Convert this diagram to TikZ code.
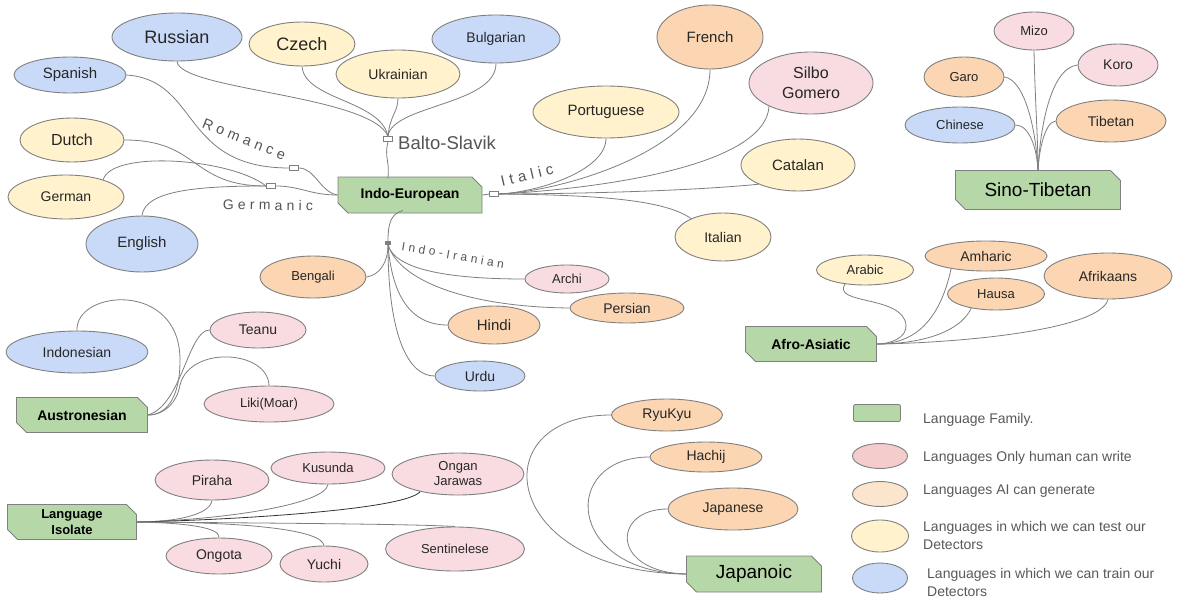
\documentclass[tikz,border=0pt]{standalone}
\usepackage{fontspec}
\setmainfont{Liberation Sans}
\newfontfamily\spaced[LetterSpace=30]{Liberation Sans}
\usetikzlibrary{shapes.geometric,shapes.misc,calc}
\definecolor{famgreen}{HTML}{B6D7A8}
\definecolor{lblue}{HTML}{C9DAF8}
\definecolor{lyellow}{HTML}{FFF2CC}
\definecolor{lorange}{HTML}{FCD6B2}
\definecolor{lpink}{HTML}{F9DCE1}
\definecolor{legpink}{HTML}{F4CCCC}
\definecolor{legorange}{HTML}{FCE5CD}
\definecolor{edgec}{HTML}{7F7F7F}
\definecolor{bord}{HTML}{808080}
\definecolor{lblc}{HTML}{595959}
\definecolor{brc}{HTML}{555555}
\newcommand\lng[8]{\node[lang,fill=#6,minimum width=#4pt,minimum height=#5pt,font=\fontsize{#7}{#7}\selectfont] (#1) at (#2,#3) {#8};}
\tikzset{
  lang/.style={ellipse, draw=bord, line width=0.9pt, inner sep=0pt, align=center, text=black!85},
  fam/.style={chamfered rectangle, chamfered rectangle corners={north east,south west},
    chamfered rectangle xsep=5pt, chamfered rectangle ysep=5pt,
    draw=bord, fill=famgreen, line width=0.9pt, inner sep=0pt, align=center, text=black},
  junc/.style={rectangle, draw=bord, fill=white, line width=0.7pt, minimum width=9pt, minimum height=5pt, inner sep=0pt},
  link/.style={draw=edgec, line width=0.8pt},
  brlbl/.style={text=brc, inner sep=0pt},
  legtxt/.style={text=lblc, anchor=west, inner sep=0pt, align=left, font=\fontsize{14}{18}\selectfont},
}
\begin{document}
\begin{tikzpicture}[x=1pt,y=-1pt]
\fill[white] (0,0) rectangle (1177,602);
\useasboundingbox (0,0) rectangle (1177,602);

% ---------- family nodes
\node[fam, minimum width=144pt, minimum height=36pt, font=\bfseries\fontsize{14}{14}\selectfont] (IE) at (410,195) {Indo-European};
\node[fam, minimum width=165pt, minimum height=39pt, font=\fontsize{19}{19}\selectfont] (ST) at (1038,190) {Sino-Tibetan};
\node[fam, minimum width=131pt, minimum height=35pt, font=\bfseries\fontsize{14}{14}\selectfont] (AA) at (811,344) {Afro-Asiatic};
\node[fam, minimum width=131pt, minimum height=35pt, font=\bfseries\fontsize{14}{14}\selectfont] (AU) at (82,415) {Austronesian};
\node[fam, minimum width=129pt, minimum height=32pt, font=\bfseries\fontsize{13}{13}\selectfont] (LI) at (72,522) {Language\\[3pt]Isolate};
\node[fam, minimum width=135pt, minimum height=36pt, font=\fontsize{19}{19}\selectfont] (JP) at (754,574) {Japanoic};

% ---------- junctions
\node[junc] (BS) at (388,139) {};
\node[junc] (Rom) at (294,168) {};
\node[junc] (Ger) at (271,186) {};
\node[junc] (Ita) at (494,194) {};
\node[junc, minimum width=5pt, minimum height=3pt, fill=bord] (II) at (388,243) {};

% ---------- branch labels
\node[brlbl, anchor=west, font=\fontsize{18.5}{18.5}\selectfont] (bslbl) at (398,143) {Balto-Slavik};
\node[brlbl, rotate=-22, font=\spaced\fontsize{14.5}{14.5}\selectfont] (romlbl) at (244,139) {Romance};
\node[brlbl, rotate=-1, font=\spaced\fontsize{14}{14}\selectfont] (gerlbl) at (268,205) {Germanic};
\node[brlbl, rotate=13, font=\spaced\fontsize{15}{15}\selectfont] (italbl) at (527,175) {Italic};
\node[brlbl, rotate=-10, font=\spaced\fontsize{12}{12}\selectfont] (iilbl) at (453,255) {Indo-Iranian};

% ---------- languages
\lng{Russian}{177}{37}{130}{48}{lblue}{18}{Russian}
\lng{Czech}{302}{44}{106}{44}{lyellow}{18}{Czech}
\lng{Ukrainian}{398}{74}{124}{48}{lyellow}{14}{Ukrainian}
\lng{Bulgarian}{496}{39}{128}{48}{lblue}{14}{Bulgarian}
\lng{Spanish}{70}{75}{112}{36}{lblue}{15}{Spanish}
\lng{Dutch}{72}{140}{104}{44}{lyellow}{16}{Dutch}
\lng{German}{66}{197}{116}{44}{lyellow}{14}{German}
\lng{English}{142}{244}{112}{56}{lblue}{15}{English}
\lng{Portuguese}{606}{112}{146}{52}{lyellow}{15}{Portuguese}
\lng{French}{710}{37}{106}{64}{lorange}{15}{French}
\lng{Silbo}{811}{83}{124}{62}{lpink}{16}{Silbo\\[4pt]Gomero}
\lng{Catalan}{798}{165}{114}{52}{lyellow}{15}{Catalan}
\lng{Italian}{723}{237}{96}{48}{lyellow}{14}{Italian}
\lng{Bengali}{313}{277}{106}{42}{lorange}{13}{Bengali}
\lng{Archi}{567}{279}{84}{28}{lpink}{13}{Archi}
\lng{Persian}{627}{308}{114}{30}{lorange}{14}{Persian}
\lng{Hindi}{494}{325}{92}{38}{lorange}{15}{Hindi}
\lng{Urdu}{480}{376}{90}{30}{lblue}{14}{Urdu}
\lng{Mizo}{1034}{31}{80}{38}{lpink}{13}{Mizo}
\lng{Garo}{964}{77}{80}{40}{lorange}{13}{Garo}
\lng{Koro}{1118}{65}{80}{42}{lpink}{14}{Koro}
\lng{Chinese}{960}{125}{110}{36}{lblue}{13}{Chinese}
\lng{Tibetan}{1111}{121}{110}{42}{lorange}{14}{Tibetan}
\lng{Arabic}{865}{270}{97}{30}{lyellow}{13}{Arabic}
\lng{Amharic}{986}{256}{122}{30}{lorange}{14}{Amharic}
\lng{Hausa}{996}{294}{97}{32}{lorange}{13}{Hausa}
\lng{Afrikaans}{1108}{276}{128}{46}{lorange}{14}{Afrikaans}
\lng{Indonesian}{77}{352}{142}{42}{lblue}{14}{Indonesian}
\lng{Teanu}{258}{330}{96}{36}{lpink}{14}{Teanu}
\lng{Liki}{269}{404}{130}{36}{lpink}{13}{Liki(Moar)}
\lng{Piraha}{212}{480}{114}{40}{lpink}{14}{Piraha}
\lng{Kusunda}{328}{468}{114}{32}{lpink}{13}{Kusunda}
\lng{Ongan}{458}{474}{132}{42}{lpink}{13}{Ongan\\[2pt]Jarawas}
\lng{Ongota}{219}{556}{106}{36}{lpink}{14}{Ongota}
\lng{Yuchi}{324}{564}{88}{36}{lpink}{14}{Yuchi}
\lng{Sentinelese}{455}{549}{139}{44}{lpink}{13}{Sentinelese}
\lng{RyuKyu}{667}{415}{111}{32}{lorange}{14}{RyuKyu}
\lng{Hachij}{706}{457}{112}{30}{lorange}{14}{Hachij}
\lng{Japanese}{733}{509}{130}{42}{lorange}{14}{Japanese}

% ---------- Indo-European connectors
\draw[link] ($(IE.north west)!0.36!(IE.north east)$) .. controls (390,160) and (384,158) .. (BS.south);
\draw[link] (BS.north) .. controls (370,95) and (180,90) .. (Russian.south);
\draw[link] (BS.north) .. controls (380,100) and (305,100) .. (Czech.south);
\draw[link] (BS.north) .. controls (390,115) and (398,112) .. (Ukrainian.south);
\draw[link] (BS.north) .. controls (392,105) and (496,105) .. (Bulgarian.south);

\draw[link] (IE.west) .. controls (320,192) and (315,168) .. (Rom.east);
\draw[link] (Rom.west) .. controls (180,168) and (200,80) .. (Spanish.east);

\draw[link] (IE.west) .. controls (310,195) and (300,186) .. (Ger.east);
\draw[link] (Ger.west) .. controls (190,186) and (200,140) .. (Dutch.east);
\draw[link] (Ger.west) .. controls (230,158) and (112,150) .. (German.25);
\draw[link] (Ger.west) .. controls (200,186) and (145,190) .. (English.north);

\draw[link] (IE.east) -- (Ita.west);
\draw[link] (Ita.east) .. controls (540,192) and (606,170) .. (Portuguese.south);
\draw[link] (Ita.east) .. controls (560,192) and (710,150) .. (French.south);
\draw[link] (Ita.east) .. controls (580,190) and (765,170) .. (Silbo.209);
\draw[link] (Ita.east) .. controls (550,194) and (680,192) .. (Catalan.206);
\draw[link] (Ita.east) .. controls (600,195) and (665,200) .. (Italian.150);

\draw[link] ($(IE.south west)!0.43!(IE.south east)$) .. controls (390,214) and (388,225) .. (II.north);
\draw[link] (II.south) .. controls (388,262) and (380,275) .. (Bengali.east);
\draw[link] (II.south) .. controls (395,270) and (450,279) .. (Archi.west);
\draw[link] (II.south) .. controls (400,282) and (470,307) .. (Persian.west);
\draw[link] (II.south) .. controls (392,295) and (410,325) .. (Hindi.west);
\draw[link] (II.south) .. controls (388,335) and (408,376) .. (Urdu.west);

% ---------- Sino-Tibetan
\draw[link] (Mizo.south) .. controls (1035,100) and (1038,140) .. (ST.north);
\draw[link] (Garo.east) .. controls (1025,80) and (1036,130) .. (ST.north);
\draw[link] (Koro.west) .. controls (1050,68) and (1040,130) .. (ST.north);
\draw[link] (Chinese.east) .. controls (1030,125) and (1037,150) .. (ST.north);
\draw[link] (Tibetan.west) .. controls (1045,122) and (1039,150) .. (ST.north);

% ---------- Afro-Asiatic
\draw[link] (Arabic.215) .. controls (832,305) and (903,295) .. (906,325) .. controls (907,338) and (890,344) .. (AA.east);
\draw[link] (Amharic.200) .. controls (940,320) and (915,344) .. (AA.east);
\draw[link] (Hausa.210) .. controls (958,335) and (915,344) .. (AA.east);
\draw[link] (Afrikaans.south) .. controls (1100,330) and (960,343) .. (AA.east);

% ---------- Austronesian
\draw[link] (Indonesian.north) .. controls (75,290) and (180,280) .. (180,360) .. controls (180,400) and (165,415) .. (AU.east);
\draw[link] (Teanu.west) .. controls (188,330) and (182,405) .. (AU.east);
\draw[link] (Liki.north) .. controls (268,350) and (190,345) .. (180,385) .. controls (177,402) and (165,415) .. (AU.east);

% ---------- Language Isolate
\draw[link] (LI.east) .. controls (175,522) and (210,515) .. (Piraha.south);
\draw[link] (LI.east) .. controls (220,520) and (325,505) .. (Kusunda.south);
\draw[link, draw=black!80] (LI.east) .. controls (230,520) and (405,510) .. (Ongan.205);
\draw[link] (LI.east) .. controls (190,523) and (220,528) .. (Ongota.north);
\draw[link] (LI.east) .. controls (250,522) and (322,530) .. (Yuchi.north);
\draw[link] (LI.east) .. controls (260,523) and (420,524) .. (Sentinelese.north);

% ---------- Japanoic
\draw[link] (RyuKyu.west) .. controls (480,415) and (500,572) .. (JP.west);
\draw[link] (Hachij.west) .. controls (560,457) and (565,572) .. (JP.west);
\draw[link] (Japanese.west) .. controls (612,509) and (610,572) .. (JP.west);

% ---------- legend
\node[rectangle, rounded corners=2pt, draw=bord, fill=famgreen, line width=0.9pt, minimum width=47pt, minimum height=17pt, inner sep=0pt] (lgfam) at (877,413) {};
\node[ellipse, draw=bord, fill=legpink, line width=0.9pt, minimum width=55pt, minimum height=25pt, inner sep=0pt] (lgpink) at (880,456) {};
\node[ellipse, draw=bord, fill=legorange, line width=0.9pt, minimum width=55pt, minimum height=25pt, inner sep=0pt] (lgorange) at (880,494) {};
\node[ellipse, draw=bord, fill=lyellow, line width=0.9pt, minimum width=57pt, minimum height=32pt, inner sep=0pt] (lgyellow) at (880,536) {};
\node[ellipse, draw=bord, fill=lblue, line width=0.9pt, minimum width=55pt, minimum height=30pt, inner sep=0pt] (lgblue) at (880,578) {};
\node[legtxt] (t1) at (923,420) {Language Family.};
\node[legtxt] (t2) at (923,458) {Languages Only human can write};
\node[legtxt] (t3) at (923,491) {Languages AI can generate};
\node[legtxt] (t4) at (923,535) {Languages in which we can test our\\Detectors};
\node[legtxt] (t5) at (927,582) {Languages in which we can train our\\Detectors};
\end{tikzpicture}
\end{document}
